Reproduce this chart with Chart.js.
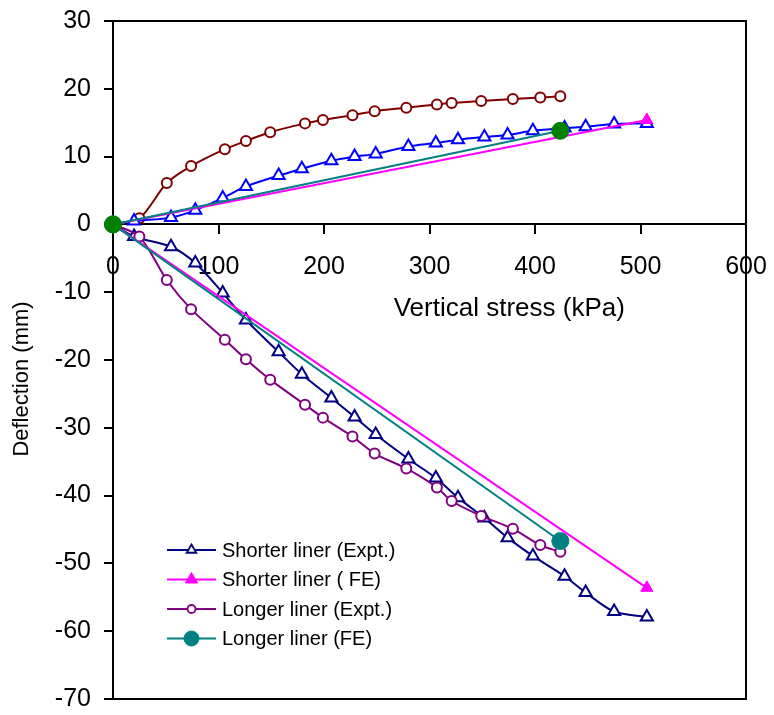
<!DOCTYPE html>
<html>
<head>
<meta charset="utf-8">
<script src="https://cdn.jsdelivr.net/npm/chart.js@4.4.1/dist/chart.umd.min.js"></script>
<style>
  html, body { margin: 0; padding: 0; background: #ffffff; }
  #wrap { width: 774px; height: 715px; }
</style>
</head>
<body>
<div id="wrap"><canvas id="chart" width="774" height="715"></canvas></div>
<script>
// Vertical stress (kPa) and deflection (mm) of the liner tests
const shortStress = [0, 20, 55, 78, 104, 126, 157, 179, 207, 229, 249, 280, 306, 327, 352, 374, 398, 428, 448, 475, 506];
const shortUpper  = [0, 0.5, 1.0, 2.1, 3.9, 5.6, 7.2, 8.2, 9.4, 10.0, 10.4, 11.5, 12.0, 12.5, 12.9, 13.2, 13.8, 14.2, 14.4, 14.8, 14.9];
const shortLower  = [0, -1.8, -3.3, -5.7, -10.1, -14.1, -18.8, -22.1, -25.6, -28.4, -31.0, -34.6, -37.4, -40.3, -43.3, -46.2, -48.9, -51.9, -54.3, -57.1, -57.9];

const longStress = [0, 25, 51, 74, 106, 126, 149, 182, 199, 227, 248, 278, 307, 321, 349, 379, 405, 424];
const longUpper  = [0, 0.9, 6.1, 8.6, 11.1, 12.3, 13.6, 14.9, 15.4, 16.1, 16.7, 17.2, 17.7, 17.9, 18.2, 18.5, 18.7, 18.9];
const longLower  = [0, -1.8, -8.2, -12.5, -17.0, -19.9, -22.9, -26.6, -28.5, -31.3, -33.8, -36.0, -38.8, -40.8, -43.0, -44.9, -47.3, -48.3];

const feShortStress = [0, 506];
const feShortUpper  = [0, 15.4];
const feShortLower  = [0, -53.6];
const feLongStress  = [0, 424];
const feLongUpper   = [0, 13.8];
const feLongLower   = [0, -46.7];

const xTickValues = [0, 100, 200, 300, 400, 500, 600];
const yTickValues = [-70, -60, -50, -40, -30, -20, -10, 0, 10, 20, 30];

const seriesNames = ['Shorter liner (Expt.)', 'Shorter liner ( FE)', 'Longer liner (Expt.)', 'Longer liner (FE)'];

const FONT = "'Liberation Sans', Arial, sans-serif";

function pairs(xs, ys) { return xs.map((x, i) => ({ x: x, y: ys[i] })); }

function exptSet(label, xs, ys, color, style, radius, order, legend) {
  return {
    label: label, data: pairs(xs, ys), showLine: true,
    borderColor: color, borderWidth: 2, tension: 0.3,
    pointStyle: style, pointRadius: radius, pointBorderWidth: 2,
    pointBackgroundColor: '#ffffff', pointBorderColor: color,
    order: order, clip: false, legendItem: legend
  };
}
function feSet(label, xs, ys, lineColor, markColor, style, radius, order, legend) {
  return {
    label: label, data: pairs(xs, ys), showLine: true,
    borderColor: lineColor, borderWidth: 2, tension: 0,
    pointStyle: style, pointRadius: radius, pointBorderWidth: 1,
    pointBackgroundColor: markColor, pointBorderColor: markColor,
    order: order, clip: false, legendItem: legend
  };
}

const datasets = [
  exptSet(seriesNames[0], shortStress, shortUpper, '#0000ff', 'triangle', 7, 6, null),
  exptSet(seriesNames[2], longStress, longUpper, '#800000', 'circle', 5, 7, null),
  feSet(seriesNames[1], feShortStress, feShortUpper, '#ff00ff', '#ff00ff', 'triangle', 7, 3, null),
  feSet(seriesNames[3], feLongStress, feLongUpper, '#008080', '#008000', 'circle', 8.5, 0, null),
  exptSet(seriesNames[0], shortStress, shortLower, '#000080', 'triangle', 7, 5, { r: 5.5, filled: false }),
  feSet(seriesNames[1], feShortStress, feShortLower, '#ff00ff', '#ff00ff', 'triangle', 7, 2, { r: 7, filled: true }),
  exptSet(seriesNames[2], longStress, longLower, '#800080', 'circle', 5, 4, { r: 4, filled: false }),
  feSet(seriesNames[3], feLongStress, feLongLower, '#008080', '#008080', 'circle', 8.5, 1, { r: 7.5, filled: true })
];

function drawMarker(ctx, style, x, y, r, stroke, fill, lw) {
  ctx.save();
  ctx.beginPath();
  if (style === 'triangle') {
    ctx.moveTo(x, y - r);
    ctx.lineTo(x + r * 0.866, y + r / 2);
    ctx.lineTo(x - r * 0.866, y + r / 2);
    ctx.closePath();
  } else {
    ctx.arc(x, y, r, 0, Math.PI * 2);
  }
  ctx.fillStyle = fill;
  ctx.fill();
  ctx.lineWidth = lw;
  ctx.strokeStyle = stroke;
  ctx.stroke();
  ctx.restore();
}

// Frame, axis titles and the line+marker legend
const decorations = {
  id: 'decorations',
  beforeDatasetsDraw(chart) {
    const { ctx, chartArea: a } = chart;
    ctx.save();
    ctx.strokeStyle = '#000000';
    ctx.lineWidth = 2;
    ctx.strokeRect(a.left, a.top, a.right - a.left, a.bottom - a.top);
    ctx.restore();
  },
  afterDraw(chart) {
    const { ctx, chartArea: a } = chart;
    ctx.save();
    ctx.fillStyle = '#000000';
    ctx.textAlign = 'center';
    ctx.textBaseline = 'middle';
    ctx.font = '26px ' + FONT;
    ctx.fillText('Vertical stress (kPa)', a.left + (a.right - a.left) * 0.626, 309);
    ctx.translate(22, 379);
    ctx.rotate(-Math.PI / 2);
    ctx.font = '22px ' + FONT;
    ctx.fillText('Deflection (mm)', 0, 0);
    ctx.restore();

    // legend
    const rows = chart.data.datasets.filter(d => d.legendItem);
    const x0 = 167, x1 = 216, tx = 222;
    let y = 550;
    rows.forEach(d => {
      ctx.save();
      ctx.strokeStyle = d.borderColor;
      ctx.lineWidth = 2;
      ctx.beginPath();
      ctx.moveTo(x0, y);
      ctx.lineTo(x1, y);
      ctx.stroke();
      ctx.restore();
      const it = d.legendItem;
      drawMarker(ctx, d.pointStyle, (x0 + x1) / 2, y, it.r, d.pointBorderColor,
                 it.filled ? d.pointBackgroundColor : '#ffffff', it.filled ? 1 : 1.8);
      ctx.save();
      ctx.fillStyle = '#000000';
      ctx.font = '20px ' + FONT;
      ctx.textAlign = 'left';
      ctx.textBaseline = 'middle';
      ctx.fillText(d.label, tx, y + 1);
      ctx.restore();
      y += 29.5;
    });
  }
};

new Chart(document.getElementById('chart'), {
  type: 'scatter',
  data: { datasets: datasets },
  options: {
    responsive: false,
    devicePixelRatio: 1,
    animation: false,
    layout: { padding: { left: 0, right: 28, top: 21, bottom: 16 } },
    plugins: { legend: { display: false }, tooltip: { enabled: false }, title: { display: false } },
    scales: {
      x: {
        type: 'linear',
        position: { y: 0 },
        min: xTickValues[0],
        max: xTickValues[xTickValues.length - 1],
        afterBuildTicks: (s) => { s.ticks = xTickValues.map(v => ({ value: v })); },
        afterFit: (s) => { s.paddingLeft = 0; s.paddingRight = 0; s.paddingTop = 0; s.paddingBottom = 0; },
        ticks: { color: '#000000', font: { size: 25, family: FONT }, padding: 19, maxRotation: 0, autoSkip: false },
        grid: { drawOnChartArea: false, drawTicks: true, tickLength: 9, color: '#000000', lineWidth: 2 },
        border: { display: true, color: '#000000', width: 2 }
      },
      y: {
        type: 'linear',
        position: 'left',
        min: yTickValues[0],
        max: yTickValues[yTickValues.length - 1],
        afterBuildTicks: (s) => { s.ticks = yTickValues.map(v => ({ value: v })); },
        afterFit: (s) => { s.width = 113; s.paddingTop = 0; s.paddingBottom = 0; s.paddingLeft = 0; s.paddingRight = 0; },
        ticks: { color: '#000000', font: { size: 25, family: FONT }, padding: 13, autoSkip: false },
        grid: { drawOnChartArea: false, drawTicks: true, tickLength: 9, color: '#000000', lineWidth: 2 },
        border: { display: true, color: '#000000', width: 2 }
      }
    }
  },
  plugins: [decorations]
});
</script>
</body>
</html>
